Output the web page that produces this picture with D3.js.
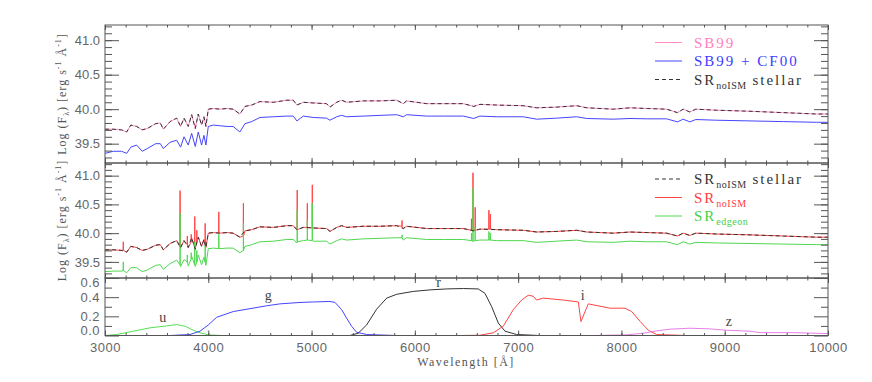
<!DOCTYPE html>
<html>
<head>
<meta charset="utf-8">
<script src="https://cdn.jsdelivr.net/npm/d3@7"></script>
<style>
  body { margin: 0; background: #fff; }
  svg text { font-family: "Liberation Serif", serif; }
  .tick text { font-family: "Liberation Sans", sans-serif; font-size: 13px; fill: #666; }
</style>
</head>
<body>
<div id="chart"></div>
<script>
// wavelength grid (Angstrom) for the continuum spectra
const waves = [3000, 3080, 3160, 3210, 3250, 3306, 3360, 3410, 3490, 3535, 3565, 3630, 3694, 3732, 3765, 3806, 3839, 3874, 3903, 3935, 3958, 3977, 4000, 4050, 4110, 4180, 4240, 4306, 4355, 4420, 4500, 4630, 4760, 4823, 4858, 4920, 5016, 5145, 5178, 5243, 5291, 5340, 5500, 5662, 5824, 5888, 5920, 6114, 6275, 6469, 6570, 6630, 6792, 7050, 7179, 7373, 7567, 7664, 7921, 8083, 8250, 8438, 8542, 8598, 8662, 8720, 8922, 9245, 9567, 9890, 10000];

// SB99 (= SR noISM stellar)
const sb99 = [39.71, 39.71, 39.70, 39.67, 39.77, 39.75, 39.70, 39.72, 39.79, 39.80, 39.71, 39.82, 39.87, 39.75, 39.87, 39.75, 39.92, 39.72, 39.93, 39.77, 39.89, 39.75, 40.00, 40.01, 40.00, 40.01, 40.00, 39.93, 40.04, 40.06, 40.11, 40.10, 40.13, 40.13, 40.06, 40.10, 40.09, 40.08, 40.03, 40.10, 40.13, 40.10, 40.12, 40.12, 40.13, 40.08, 40.12, 40.08, 40.08, 40.08, 40.04, 40.07, 40.06, 40.05, 40.02, 40.03, 40.05, 40.02, 40.00, 40.02, 40.01, 40.00, 39.95, 40.00, 39.96, 40.00, 39.985, 39.97, 39.95, 39.93, 39.93];

// SB99 + CF00
const sb99cf00 = [39.36, 39.39, 39.39, 39.36, 39.45, 39.48, 39.39, 39.43, 39.50, 39.50, 39.43, 39.52, 39.55, 39.45, 39.60, 39.48, 39.65, 39.46, 39.67, 39.48, 39.62, 39.48, 39.75, 39.77, 39.76, 39.75, 39.75, 39.67, 39.79, 39.82, 39.88, 39.89, 39.90, 39.90, 39.83, 39.90, 39.88, 39.87, 39.84, 39.89, 39.91, 39.89, 39.90, 39.91, 39.92, 39.89, 39.92, 39.90, 39.90, 39.90, 39.865, 39.90, 39.89, 39.89, 39.855, 39.87, 39.89, 39.865, 39.855, 39.865, 39.86, 39.86, 39.816, 39.855, 39.816, 39.85, 39.84, 39.83, 39.82, 39.81, 39.81];

// SR edgeon continuum
const edgeon = [39.33, 39.34, 39.34, 39.31, 39.40, 39.40, 39.33, 39.36, 39.44, 39.45, 39.37, 39.47, 39.53, 39.42, 39.54, 39.43, 39.60, 39.42, 39.62, 39.45, 39.58, 39.44, 39.73, 39.74, 39.73, 39.74, 39.74, 39.66, 39.77, 39.80, 39.85, 39.86, 39.89, 39.89, 39.83, 39.87, 39.86, 39.86, 39.81, 39.87, 39.90, 39.88, 39.90, 39.91, 39.92, 39.88, 39.92, 39.89, 39.89, 39.89, 39.86, 39.88, 39.87, 39.87, 39.84, 39.86, 39.88, 39.85, 39.84, 39.86, 39.85, 39.85, 39.80, 39.85, 39.81, 39.84, 39.83, 39.82, 39.81, 39.80, 39.80];

// nebular emission lines: wavelength, continuum level, peak (SR noISM)
const lineWaves = [3177, 3727, 3797, 3835, 3869, 3889, 3970, 4102, 4340, 4861, 4959, 5007, 5876, 6548, 6563, 6584, 6717, 6731];
const noismBase = [39.70, 39.76, 39.80, 39.85, 39.75, 39.85, 39.80, 40.00, 39.95, 40.06, 40.10, 40.09, 40.12, 40.05, 40.04, 40.05, 40.07, 40.07];
const noismPeak = [39.85, 40.74, 39.95, 39.98, 40.29, 40.05, 40.17, 40.37, 40.52, 40.75, 40.52, 40.84, 40.22, 40.25, 41.05, 40.45, 40.40, 40.33];
// same lines in the edgeon spectrum
const edgeonBase = [39.35, 39.45, 39.50, 39.55, 39.45, 39.50, 39.50, 39.73, 39.70, 39.85, 39.88, 39.87, 39.92, 39.87, 39.86, 39.87, 39.88, 39.88];
const edgeonPeak = [39.50, 40.35, 39.62, 39.66, 39.85, 39.70, 39.80, 39.98, 40.17, 40.40, 40.23, 40.52, 39.97, 40.00, 40.78, 40.10, 40.03, 40.00];

// SDSS filter curves
const uWave = [3000, 3113, 3274, 3436, 3597, 3694, 3775, 3855, 3920, 4000, 4130];
const uResp = [0.0, 0.01, 0.045, 0.08, 0.10, 0.114, 0.097, 0.055, 0.028, 0.007, 0.0];
const gWave = [3629, 3823, 3920, 4000, 4081, 4242, 4565, 4694, 4888, 5017, 5178, 5227, 5291, 5340, 5388, 5436, 5533, 5824];
const gResp = [0.0, 0.01, 0.045, 0.11, 0.19, 0.25, 0.31, 0.33, 0.345, 0.35, 0.355, 0.345, 0.27, 0.18, 0.096, 0.034, 0.01, 0.0];
const rWave = [5372, 5452, 5533, 5630, 5727, 5824, 5985, 6146, 6307, 6469, 6614, 6679, 6744, 6808, 6873, 6985, 7211];
const rResp = [0.0, 0.024, 0.11, 0.275, 0.39, 0.43, 0.46, 0.476, 0.486, 0.49, 0.486, 0.44, 0.30, 0.13, 0.045, 0.01, 0.0];
const iWave = [6437, 6630, 6759, 6856, 6953, 7034, 7098, 7146, 7178, 7243, 7437, 7583, 7608, 7679, 7889, 8034, 8099, 8180, 8260, 8341, 8632];
const iResp = [0.0, 0.003, 0.028, 0.097, 0.27, 0.37, 0.42, 0.41, 0.37, 0.39, 0.37, 0.35, 0.145, 0.33, 0.285, 0.285, 0.25, 0.148, 0.055, 0.01, 0.0];
const zWave = [7728, 8051, 8212, 8341, 8470, 8664, 8857, 9018, 9245, 9341, 9664, 10000];
const zResp = [0.0, 0.007, 0.024, 0.048, 0.066, 0.076, 0.069, 0.055, 0.045, 0.03, 0.03, 0.02];

const fluxTicks = [39.5, 40.0, 40.5, 41.0];
const fluxMinor = d3.range(39.3, 41.21, 0.1);
const respTicks = [0.0, 0.2, 0.4, 0.6];
const respMinor = [0.1, 0.3, 0.5];
const waveTicks = d3.range(3000, 10001, 1000);
const waveMinor = d3.range(3000, 10001, 200);

const width = 872;
const height = 382;
const left = 105;
const right = 828;

const svg = d3
  .select("#chart")
  .append("svg")
  .attr("width", width)
  .attr("height", height);

const x = d3.scaleLinear().domain([3000, 10000]).range([left, right]);

const panels = [
  { top: 25, bottom: 163, domain: [39.22, 41.22] },
  { top: 163, bottom: 278, domain: [39.22, 41.22] },
  { top: 278, bottom: 335.5, domain: [0, 0.6] }
];
panels.forEach((p) => {
  p.y = d3.scaleLinear().domain(p.domain).range([p.bottom, p.top]);
});

function pairs(ws, vs) {
  return ws.map((w, i) => ({ w: w, v: vs[i] }));
}

// continuum plus narrow emission spikes, sorted by wavelength
function withLines(ws, vs, base, peak) {
  const pts = pairs(ws, vs);
  lineWaves.forEach((w, i) => {
    pts.push({ w: w - 1, v: base[i] });
    pts.push({ w: w, v: peak[i] });
    pts.push({ w: w + 1, v: base[i] });
  });
  return pts.sort((a, b) => a.w - b.w);
}

function drawLine(p, data, color, dash) {
  const line = d3
    .line()
    .x((d) => x(d.w))
    .y((d) => p.y(d.v));
  svg
    .append("path")
    .datum(data)
    .attr("fill", "none")
    .attr("stroke", color)
    .attr("stroke-width", 1)
    .attr("stroke-dasharray", dash || null)
    .attr("d", line);
}

function drawAxes(p, majors, minors, fmt, showX) {
  const g = svg.append("g").attr("class", "axes");
  // x ticks, bottom and top, pointing inward
  g.append("g")
    .attr("transform", `translate(0, ${p.bottom})`)
    .call(d3.axisBottom(x).tickValues(waveMinor).tickSize(-2.5).tickFormat(""));
  g.append("g")
    .attr("transform", `translate(0, ${p.bottom})`)
    .call(
      d3.axisBottom(x)
        .tickValues(waveTicks)
        .tickSize(-5)
        .tickPadding(7)
        .tickFormat(showX ? d3.format("d") : "")
    );
  g.append("g")
    .attr("transform", `translate(0, ${p.top})`)
    .call(d3.axisTop(x).tickValues(waveMinor).tickSize(-2.5).tickFormat(""));
  g.append("g")
    .attr("transform", `translate(0, ${p.top})`)
    .call(d3.axisTop(x).tickValues(waveTicks).tickSize(-5).tickFormat(""));
  // y ticks, left and right
  g.append("g")
    .attr("transform", `translate(${left}, 0)`)
    .call(d3.axisLeft(p.y).tickValues(minors).tickSize(-7).tickFormat(""));
  g.append("g")
    .attr("class", "ylab")
    .attr("transform", `translate(${left}, 0)`)
    .call(d3.axisLeft(p.y).tickValues(majors).tickSize(-14).tickPadding(5).tickFormat(fmt));
  g.append("g")
    .attr("transform", `translate(${right}, 0)`)
    .call(d3.axisRight(p.y).tickValues(minors).tickSize(-7).tickFormat(""));
  g.append("g")
    .attr("transform", `translate(${right}, 0)`)
    .call(d3.axisRight(p.y).tickValues(majors).tickSize(-14).tickFormat(""));
  g.selectAll(".domain").remove();
  g.selectAll(".tick line").attr("stroke", "#555");
  svg
    .append("rect")
    .attr("x", left)
    .attr("y", p.top)
    .attr("width", right - left)
    .attr("height", p.bottom - p.top)
    .attr("fill", "none")
    .attr("stroke", "#555")
    .attr("stroke-width", 1);
  return g;
}

function yTitle(p) {
  const t = svg
    .append("text")
    .attr("transform", `translate(66, ${(p.top + p.bottom) / 2}) rotate(-90)`)
    .attr("text-anchor", "middle")
    .attr("font-size", 12)
    .attr("letter-spacing", 1)
    .attr("fill", "#555");
  t.append("tspan").text("Log (F");
  t.append("tspan").attr("font-size", 8).attr("dy", 3).text("λ");
  t.append("tspan").attr("dy", -3).text(") [erg s");
  t.append("tspan").attr("font-size", 8).attr("dy", -5).text("-1");
  t.append("tspan").attr("dy", 5).text(" Å");
  t.append("tspan").attr("font-size", 8).attr("dy", -5).text("-1");
  t.append("tspan").attr("dy", 5).text("]");
}

function legend(items, y0) {
  items.forEach((it, i) => {
    const y = y0 + i * 18.5;
    svg
      .append("line")
      .attr("x1", 655)
      .attr("x2", 682)
      .attr("y1", y)
      .attr("y2", y)
      .attr("stroke", it.color)
      .attr("stroke-dasharray", it.dash || null);
    const t = svg
      .append("text")
      .attr("x", 694)
      .attr("y", y + 5)
      .attr("font-size", 15)
      .attr("letter-spacing", 2)
      .attr("fill", it.text);
    t.append("tspan").text(it.label);
    if (it.sub) {
      t.append("tspan").attr("font-size", 10).attr("letter-spacing", 0.5).attr("dy", 4).text(it.sub);
      if (it.after) t.append("tspan").attr("dy", -4).text(it.after);
    }
  });
}

// panel 1: SB99 with and without CF00 attenuation
const p1 = panels[0];
drawLine(p1, pairs(waves, sb99), "#ff8cc6");
drawLine(p1, pairs(waves, sb99cf00), "#4545ff");
drawLine(p1, pairs(waves, sb99), "#333", "4,3");
drawAxes(p1, fluxTicks, fluxMinor, d3.format(".1f"), false);
yTitle(p1);
legend(
  [
    { label: "SB99", color: "#ff8cc6", text: "#ff7fc0" },
    { label: "SB99 + CF00", color: "#4545ff", text: "#3c3cff" },
    { label: "SR", sub: "noISM", after: " stellar", color: "#333", text: "#333", dash: "4,3" }
  ],
  42.5
);

// panel 2: SR spectra with nebular emission
const p2 = panels[1];
drawLine(p2, withLines(waves, sb99, noismBase, noismPeak), "#ff4444");
drawLine(p2, withLines(waves, edgeon, edgeonBase, edgeonPeak), "#4fd84f");
drawLine(p2, pairs(waves, sb99), "#333", "4,3");
drawAxes(p2, fluxTicks, fluxMinor, d3.format(".1f"), false);
yTitle(p2);
legend(
  [
    { label: "SR", sub: "noISM", after: " stellar", color: "#333", text: "#333", dash: "4,3" },
    { label: "SR", sub: "noISM", color: "#ff4444", text: "#ff3c3c" },
    { label: "SR", sub: "edgeon", color: "#4fd84f", text: "#45d045" }
  ],
  179
);

// panel 3: filter transmission curves
const p3 = panels[2];
const filters = [
  { name: "u", w: uWave, r: uResp, color: "#55e055", lx: 3560, ly: 321.5 },
  { name: "g", w: gWave, r: gResp, color: "#4545ff", lx: 4580, ly: 299.5 },
  { name: "r", w: rWave, r: rResp, color: "#333", lx: 6230, ly: 287 },
  { name: "i", w: iWave, r: iResp, color: "#ff4444", lx: 7625, ly: 299.5 },
  { name: "z", w: zWave, r: zResp, color: "#e77fe7", lx: 9040, ly: 326 }
];
filters.forEach((f) => {
  drawLine(p3, pairs(f.w, f.r), f.color);
  svg
    .append("text")
    .attr("x", x(f.lx))
    .attr("y", f.ly)
    .attr("text-anchor", "middle")
    .attr("font-size", 14)
    .attr("fill", "#444")
    .text(f.name);
});
const ax3 = drawAxes(p3, respTicks, respMinor, d3.format(".1f"), true);
// end labels sit a little inside the frame
ax3.selectAll(".ylab .tick text").attr("dy", (d) => (d === 0 ? "-0.05em" : d === 0.6 ? "0.65em" : "0.32em"));
ax3.selectAll(".tick text").attr("letter-spacing", 0.5);

svg
  .append("text")
  .attr("x", 466)
  .attr("y", 366)
  .attr("text-anchor", "middle")
  .attr("font-size", 12)
  .attr("letter-spacing", 1.5)
  .attr("fill", "#555")
  .text("Wavelength [Å]");
</script>
</body>
</html>
